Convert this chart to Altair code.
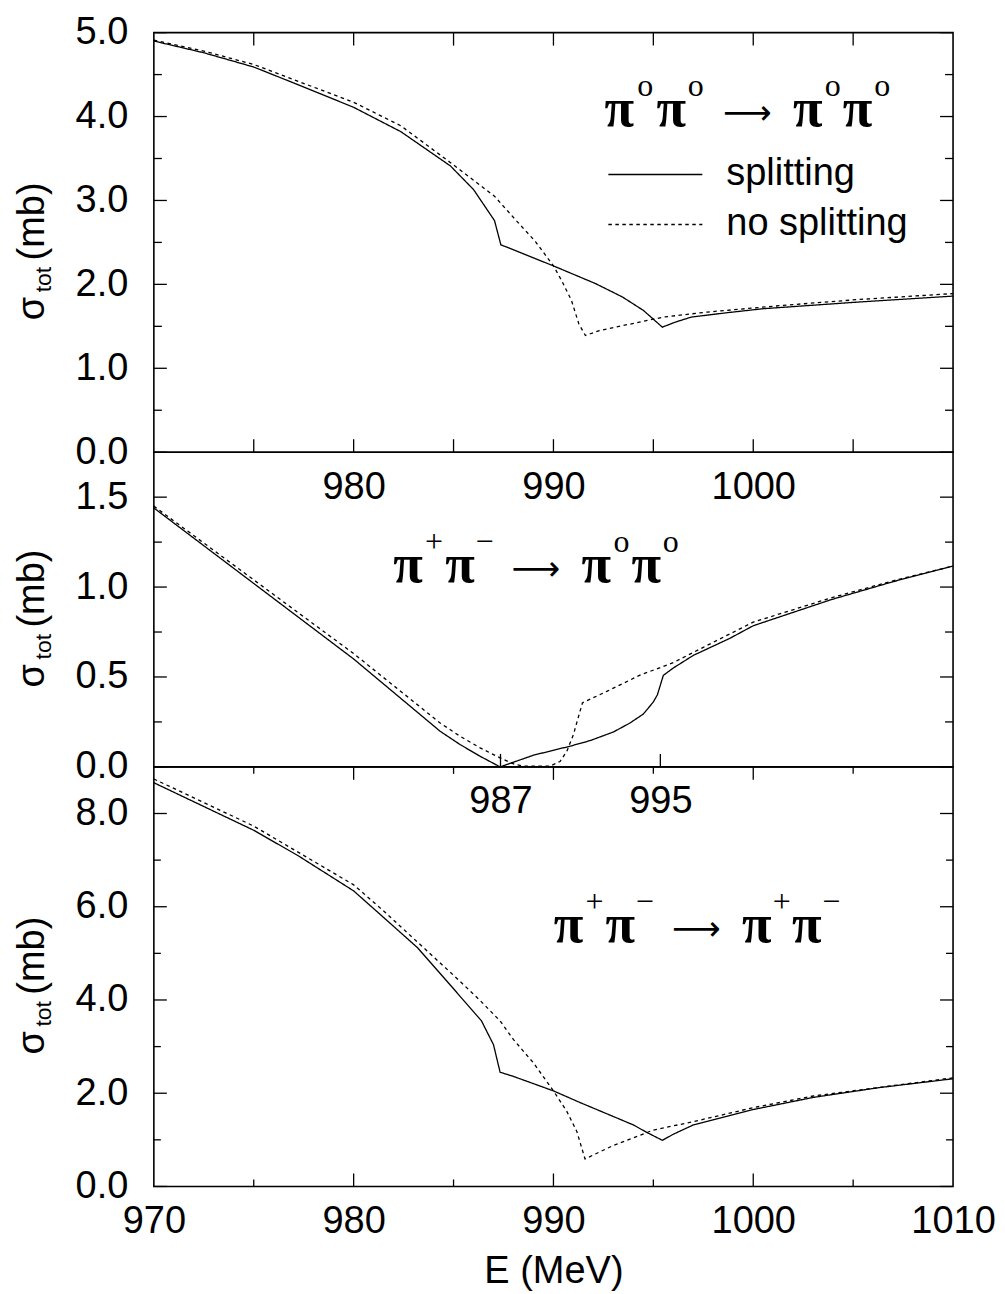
import altair as alt
import pandas as pd

# ---------------- data ----------------
# Panel 1: pi0 pi0 -> pi0 pi0
p1_split_E = [970, 972.5, 975, 977, 980, 982.36, 984.85, 986.0, 987.05, 987.37, 987.6, 990, 992.1, 993.45, 994.5, 995.45, 996.1, 996.9, 998.6, 1000.5, 1005.3, 1010]
p1_split_s = [4.90, 4.76, 4.59, 4.40, 4.11, 3.82, 3.41, 3.13, 2.76, 2.47, 2.45, 2.22, 2.01, 1.85, 1.69, 1.49, 1.55, 1.61, 1.66, 1.71, 1.79, 1.86]
p1_nosplit_E = [970, 972.5, 975, 977, 980, 982.36, 984.85, 987.05, 988.1, 989.1, 990, 990.4, 990.9, 991.27, 991.6, 992.3, 993.9, 995.5, 997.7, 1001.5, 1005.3, 1010]
p1_nosplit_s = [4.91, 4.78, 4.62, 4.44, 4.17, 3.89, 3.45, 3.05, 2.77, 2.51, 2.22, 2.05, 1.81, 1.53, 1.39, 1.45, 1.53, 1.61, 1.67, 1.75, 1.82, 1.89]

# Panel 2: pi+ pi- -> pi0 pi0
p2_split_E = [970, 975, 980, 984.33, 985.33, 986.33, 987.33, 989, 990.83, 991.83, 993, 993.83, 994.5, 995.0, 995.2, 995.5, 996, 997, 998.83, 1000, 1003.9, 1007, 1010]
p2_split_s = [1.44, 1.02, 0.60, 0.198, 0.124, 0.059, 0.0, 0.065, 0.115, 0.146, 0.194, 0.244, 0.294, 0.361, 0.40, 0.509, 0.55, 0.62, 0.715, 0.785, 0.93, 1.03, 1.117]
p2_nosplit_E = [970, 975, 980, 984.33, 985.33, 986.33, 987.33, 988, 988.5, 989.83, 990.33, 990.67, 991.0, 991.45, 992.67, 994.33, 996, 997.5, 1000, 1003.9, 1007, 1010]
p2_nosplit_s = [1.45, 1.04, 0.63, 0.244, 0.17, 0.106, 0.05, 0.017, 0.004, 0.004, 0.03, 0.087, 0.18, 0.356, 0.42, 0.51, 0.58, 0.665, 0.805, 0.94, 1.035, 1.117]

# Panel 3: pi+ pi- -> pi+ pi-
p3_split_E = [970, 975, 977.2, 980, 981.5, 983.2, 985, 986.4, 987.0, 987.33, 988, 990, 991.33, 993, 994, 994.67, 995.45, 996, 997, 1000, 1003, 1006.3, 1010]
p3_split_s = [8.66, 7.64, 7.10, 6.34, 5.77, 5.12, 4.24, 3.55, 3.04, 2.45, 2.36, 2.05, 1.80, 1.50, 1.32, 1.16, 0.99, 1.12, 1.32, 1.65, 1.91, 2.12, 2.31]
p3_nosplit_E = [970, 975, 980, 981.5, 985, 986.33, 987.33, 988, 989, 990, 990.67, 991.17, 991.58, 993, 995, 997, 1000, 1003, 1010]
p3_nosplit_s = [8.74, 7.73, 6.47, 5.91, 4.53, 3.99, 3.55, 3.15, 2.65, 2.05, 1.61, 1.18, 0.59, 0.88, 1.21, 1.39, 1.69, 1.94, 2.33]

series_names = ["splitting", "no splitting"]

# tick values
p1_x_labels = [980, 990, 1000]
p1_x_ticks = [975, 980, 985, 990, 995, 1000, 1005]
p1_y_labels = [0, 1, 2, 3, 4, 5]
p1_y_minor = [0.5, 1.5, 2.5, 3.5, 4.5]

p2_x_labels = [987.35, 995.35]          # K+K- and K0K0bar thresholds
p2_y_labels = [0.0, 0.5, 1.0, 1.5]
p2_y_minor = [0.25, 0.75, 1.25]

p3_x_labels = [970, 980, 990, 1000, 1010]
p3_x_major = [980, 990, 1000]
p3_x_minor = [975, 985, 995, 1005]
p3_y_labels = [0, 2, 4, 6, 8]
p3_y_minor = [1, 3, 5, 7]

# ---------------- layout constants ----------------
W = 800
H1, H2, H3 = 420, 315, 420
FS = 38
SANS = "Liberation Sans"
MAJ, MIN = 13, 7

xscale = alt.Scale(domain=[970, 1010], nice=False, zero=False)
dash_scale = alt.Scale(domain=series_names, range=[[1, 0], [3.5, 3.5]])


def lines_df(Ea, sa, Eb, sb):
    a = pd.DataFrame({"E": Ea, "sigma": sa, "series": series_names[0]})
    b = pd.DataFrame({"E": Eb, "sigma": sb, "series": series_names[1]})
    return pd.concat([a, b], ignore_index=True)


def x_tick_layer(vals, length, side, H, yscale):
    df = pd.DataFrame({"E": vals})
    if side == "bottom":
        yv, y2v = alt.value(H), alt.value(H - length)
    else:
        yv, y2v = alt.value(0), alt.value(length)
    return alt.Chart(df).mark_rule(color="black", strokeWidth=1.3).encode(
        x=alt.X("E:Q", scale=xscale), y=yv, y2=y2v)


def y_tick_layer(vals, length, side, yscale):
    df = pd.DataFrame({"sigma": vals})
    if side == "left":
        xv, x2v = alt.value(0), alt.value(length)
    else:
        xv, x2v = alt.value(W), alt.value(W - length)
    return alt.Chart(df).mark_rule(color="black", strokeWidth=1.3).encode(
        y=alt.Y("sigma:Q", scale=yscale), x=xv, x2=x2v)


def ytitle_layers(H):
    one = pd.DataFrame({"k": [0]})
    c = H / 2
    parts = [("σ", FS, -110, c + 78), ("tot", 23, -103, c + 50), ("(mb)", FS, -110, c + 18)]
    out = []
    for t, fs, x, y in parts:
        out.append(alt.Chart(one).mark_text(text=t, font=SANS, fontSize=fs, angle=270,
                                            align="left", baseline="alphabetic", color="black")
                   .encode(x=alt.value(x), y=alt.value(y)))
    return out


# formula glyphs: dx from the first pi centre
OFFS = [0, 26, 52, 76.5, 128, 188.5, 213.5, 238.5, 263]


def formula_layers(sups, E0, s0, yscale):
    glyphs = ["π", sups[0], "π", sups[1], "⟶", "π", sups[2], "π", sups[3]]
    df = pd.DataFrame({"E": [E0], "sigma": [s0]})
    out = []
    for i, (g, dx) in enumerate(zip(glyphs, OFFS)):
        sup = i in (1, 3, 6, 8)
        weight = "normal"
        if sup:
            font, fs, dy = "Liberation Serif", 32, -30
        elif i == 4:
            font, fs, dy = "DejaVu Sans", 34, -2
        else:
            font, fs, dy, weight = "Liberation Serif", 54, 0, "bold"
        out.append(alt.Chart(df).mark_text(text=g, font=font, fontSize=fs, dx=dx, dy=dy,
                                           fontWeight=weight, align="center",
                                           baseline="alphabetic", color="black")
                   .encode(x=alt.X("E:Q", scale=xscale),
                           y=alt.Y("sigma:Q", scale=yscale)))
    return out


def line_layer(df, yscale, xaxis, yaxis, legend):
    return alt.Chart(df).mark_line(color="black", strokeWidth=1.3).encode(
        x=alt.X("E:Q", scale=xscale, axis=xaxis),
        y=alt.Y("sigma:Q", scale=yscale, axis=yaxis),
        strokeDash=alt.StrokeDash("series:N", scale=dash_scale, legend=legend),
        detail="series:N",
    )


ylab = dict(format=".1f", title=None, labelPadding=26)

# ---------------- panel 1 ----------------
ys1 = alt.Scale(domain=[0, 5], nice=False, zero=False)
# wide horizontal stroke symbol: unit = sqrt(size)/2 = 12 px -> 94 px long
legend1 = alt.Legend(title=None, orient="none", legendX=483, legendY=123,
                     symbolType="M-3.92,0H3.92", symbolSize=576, symbolStrokeWidth=1.5,
                     symbolStrokeColor="black", symbolFillColor="transparent",
                     labelFont=SANS, labelFontSize=FS,
                     labelColor="black", labelOffset=52, rowPadding=12, padding=0,
                     labelLimit=0)
p1 = alt.layer(
    line_layer(lines_df(p1_split_E, p1_split_s, p1_nosplit_E, p1_nosplit_s), ys1,
               alt.Axis(values=p1_x_labels, format="d", title=None, labelPadding=16),
               alt.Axis(values=p1_y_labels, **ylab), legend1),
    x_tick_layer(p1_x_ticks, MAJ, "bottom", H1, ys1),
    x_tick_layer(p1_x_ticks, MAJ, "top", H1, ys1),
    y_tick_layer(p1_y_labels, MAJ, "left", ys1),
    y_tick_layer(p1_y_labels, MAJ, "right", ys1),
    y_tick_layer(p1_y_minor, MIN + 1, "left", ys1),
    y_tick_layer(p1_y_minor, MIN + 1, "right", ys1),
    *formula_layers(["o", "o", "o", "o"], 993.3, 3.893, ys1),
    *ytitle_layers(H1),
).properties(width=W, height=H1)

# ---------------- panel 2 ----------------
ys2 = alt.Scale(domain=[0, 1.75], nice=False, zero=False)
p2 = alt.layer(
    line_layer(lines_df(p2_split_E, p2_split_s, p2_nosplit_E, p2_nosplit_s), ys2,
               alt.Axis(values=p2_x_labels, format=".0f", title=None, labelPadding=16),
               alt.Axis(values=p2_y_labels, **ylab), None),
    x_tick_layer(p2_x_labels, MAJ, "bottom", H2, ys2),
    y_tick_layer(p2_y_labels, MAJ, "left", ys2),
    y_tick_layer(p2_y_labels, MAJ, "right", ys2),
    y_tick_layer(p2_y_minor, MIN + 1, "left", ys2),
    y_tick_layer(p2_y_minor, MIN + 1, "right", ys2),
    *formula_layers(["+", "−", "o", "o"], 982.725, 1.028, ys2),
    *ytitle_layers(H2),
).properties(width=W, height=H2)

# ---------------- panel 3 ----------------
ys3 = alt.Scale(domain=[0, 9], nice=False, zero=False)
p3 = alt.layer(
    line_layer(lines_df(p3_split_E, p3_split_s, p3_nosplit_E, p3_nosplit_s), ys3,
               alt.Axis(values=p3_x_labels, format="d", title="E (MeV)", labelPadding=16,
                        titlePadding=12, titleFont=SANS, titleFontSize=FS,
                        titleFontWeight="normal", titleColor="black"),
               alt.Axis(values=p3_y_labels, **ylab), None),
    x_tick_layer(p3_x_major, MAJ, "bottom", H3, ys3),
    x_tick_layer(p3_x_minor, MIN, "bottom", H3, ys3),
    x_tick_layer(p3_x_major, MAJ, "top", H3, ys3),
    x_tick_layer(p3_x_minor, MIN, "top", H3, ys3),
    y_tick_layer(p3_y_labels, MAJ, "left", ys3),
    y_tick_layer(p3_y_labels, MAJ, "right", ys3),
    y_tick_layer(p3_y_minor, MIN, "left", ys3),
    y_tick_layer(p3_y_minor, MIN, "right", ys3),
    *formula_layers(["+", "−", "+", "−"], 990.75, 5.25, ys3),
    *ytitle_layers(H3),
).properties(width=W, height=H3)

chart = alt.vconcat(p1, p2, p3, spacing=0, bounds="flush").resolve_legend(
    strokeDash="independent"
).configure_view(stroke="black", strokeWidth=1.6).configure_axis(
    labelFont=SANS, labelFontSize=FS, labelColor="black", ticks=False, domain=False,
    grid=False, labelFlush=False, labelOverlap=False
).properties(padding={"left": 5, "top": 4, "right": 0, "bottom": 0}, background="white")

chart.save("out.html", embed_options={"renderer": "svg", "actions": False})
